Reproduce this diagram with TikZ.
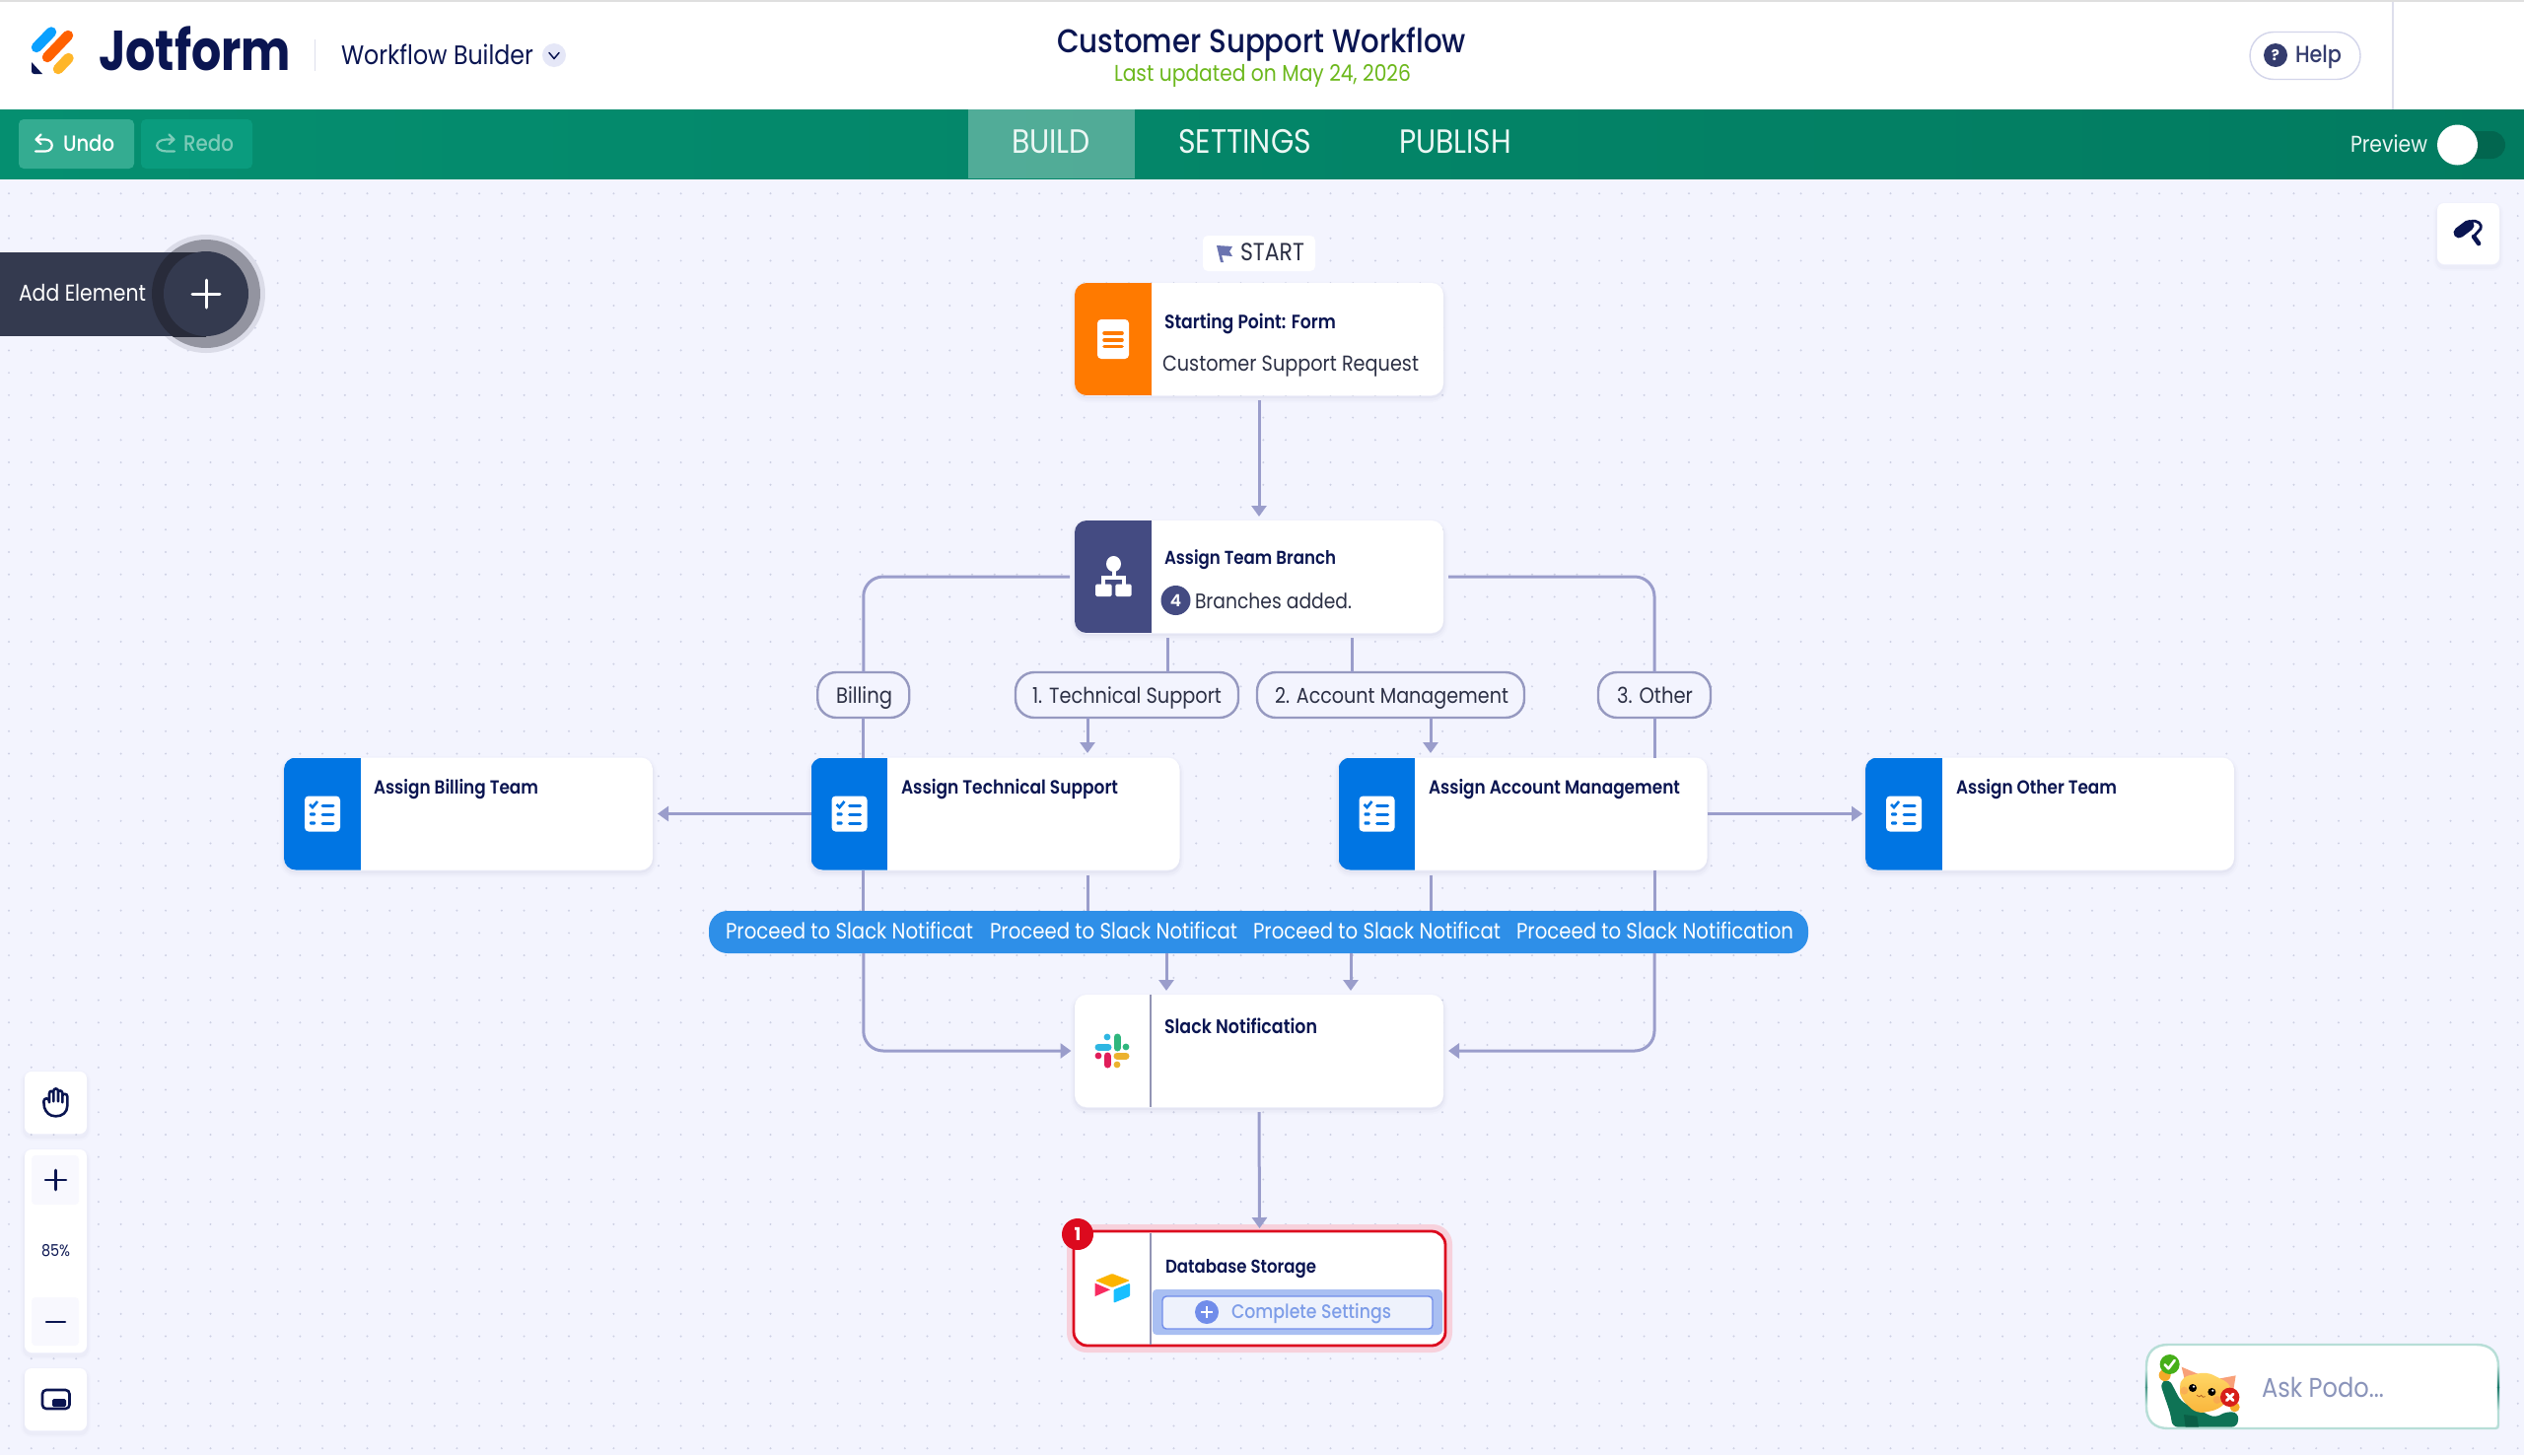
\documentclass[tikz,border=0pt]{standalone}
\usepackage{fontspec}
\usepackage{graphicx}
\usetikzlibrary{arrows.meta,calc}
\setmainfont{Poppins}
\newfontfamily\fmed{Poppins Medium}
\newfontfamily\fsemi{Poppins SemiBold}
\newfontfamily\fbold{Poppins}[UprightFont=* Bold]
\definecolor{navy}{HTML}{0A1551}
\definecolor{bgc}{HTML}{F3F4FE}
\definecolor{dotc}{HTML}{CDD0E4}
\definecolor{linec}{HTML}{9A9DCB}
\definecolor{ink}{HTML}{2C3045}
\definecolor{slate}{HTML}{343C6E}
\definecolor{brandblue}{HTML}{0075E3}
\definecolor{brandorange}{HTML}{FF7A00}
\definecolor{brandindigo}{HTML}{444B82}
\definecolor{darkbar}{HTML}{343A4F}
\definecolor{busc}{HTML}{2E8FE8}
\definecolor{redc}{HTML}{DC0A1E}
\definecolor{compl}{HTML}{7E9DE8}
\definecolor{barl}{HTML}{058F70}
\definecolor{barr}{HTML}{027B60}
\definecolor{bordl}{HTML}{B7DED7}
\definecolor{bordd}{HTML}{197869}
\definecolor{bordm}{HTML}{469687}
\definecolor{catl}{HTML}{FFD766}
\definecolor{catd}{HTML}{F9B53B}
\definecolor{tabtxt}{HTML}{EBF7F4}
\definecolor{redotxt}{HTML}{7CCBB8}
\definecolor{updc}{HTML}{6CB81C}
\definecolor{podoc}{HTML}{8A94BA}
\definecolor{helpb}{HTML}{D3D5EA}
\definecolor{divl}{HTML}{DEDFEC}
\def\vstretch{1.14}
\newcommand\txt[7]{\node[anchor=base west,inner sep=0pt,outer sep=0pt,text=#5] (#1) at (#2,#3) {\scalebox{1}[\vstretch]{\resizebox{#4pt}{!}{\fontsize{20pt}{24pt}#6\selectfont #7}}};}
\newcommand\checklist[1]{%
  \fill[white,rounded corners=4pt] ([xshift=21pt,yshift=-2pt]#1.west |- #1.center) ++(0pt,20pt) rectangle ++(36pt,-36pt);
  \begin{scope}[shift={(#1.west)},yshift=-0.5pt]
    \foreach \yy/\xx in {-9/0,0/0,9/0}{\draw[brandblue,line width=3pt,line cap=round] (39,\yy) -- (50,\yy);}
    \draw[brandblue,line width=2.6pt] (26,-10) -- (29,-7) -- (34,-13);
    \fill[brandblue,rounded corners=1pt] (26,-1.6) rectangle (32,1.6);
    \fill[brandblue,rounded corners=1pt] (26,7.4) rectangle (32,10.6);
  \end{scope}}
\newcommand\strip[3]{%
  \begin{scope}
    \clip[rounded corners=12pt] (#1.south west) rectangle (#1.north east);
    \fill[#2] (#1.south west) rectangle (#3,\cardtop);
  \end{scope}}
\tikzset{
  x=1pt,y=-1pt,
  cardbox/.style={rectangle,fill=white,rounded corners=12pt,inner sep=0pt,outer sep=0pt,
    minimum width=374pt,minimum height=114pt,
    preaction={draw=slate,line width=9pt,opacity=.012,transform canvas={yshift=-3pt}},
    preaction={draw=slate,line width=5pt,opacity=.022,transform canvas={yshift=-3pt}},
    preaction={draw=slate,line width=2pt,opacity=.035,transform canvas={yshift=-2pt}}},
  toolbox/.style={rectangle,fill=white,rounded corners=7pt,inner sep=0pt,outer sep=0pt,
    preaction={draw=slate,line width=8pt,opacity=.012,transform canvas={yshift=-3pt}},
    preaction={draw=slate,line width=4pt,opacity=.022,transform canvas={yshift=-3pt}}},
  pillbox/.style={rectangle,draw=linec!85!gray,fill=bgc,line width=2.4pt,rounded corners=19pt,inner sep=0pt,outer sep=0pt,minimum height=46pt},
  conn/.style={draw=linec,line width=3pt},
  tip/.style={-{Triangle[length=11pt,width=15pt]}},
}
\begin{document}
\begin{tikzpicture}
\useasboundingbox (0,0) rectangle (2560,1476);
% canvas
\fill[bgc] (0,0) rectangle (2560,1476);
\foreach \r in {0,...,56}{
  \pgfmathsetmacro\yy{196.3+22.73*\r}
  \fill[dotc] \foreach \c in {0,...,112}{ ({9+22.72*\c},\yy) circle (1.1pt) };
}
% header
\fill[white] (0,0) rectangle (2560,111);
\fill[gray!25] (0,0) rectangle (2560,1.5);
\draw[divl,line width=1.2pt] (2427,1.5) -- (2427,111);
% toolbar
\shade[left color=barl,right color=barr] (0,111) rectangle (2560,181);
\fill[white,opacity=.31] (981.5,111) rectangle (1150.5,181);
\node[fill={rgb,255:red,52;green,172;blue,145},rounded corners=5pt,inner sep=0pt,minimum width=117pt,minimum height=50pt] (undobtn) at (77.5,146) {};
\node[fill={rgb,255:red,10;green,156;blue,126},rounded corners=5pt,inner sep=0pt,minimum width=113pt,minimum height=50pt] (redobtn) at (199.5,146) {};
\draw[white,line width=2.2pt,line cap=round,line join=round] (36,153.5) -- (46,153.5) .. controls (55,153.5) and (55,141.5) .. (46,141.5) -- (37,141.5) (41.5,136.5) -- (36.5,141.5) -- (41.5,146);
\draw[draw=redotxt,line width=2.2pt,line cap=round,line join=round] (177,153.5) -- (169,153.5) .. controls (156,153.5) and (156,141.5) .. (169,141.5) -- (176,141.5) (171.5,136.5) -- (176.5,141.5) -- (171.5,146);
\txt{tundo}{64}{153}{52}{white}{\fmed}{Undo}
\txt{tredo}{186}{153}{51}{redotxt}{\fmed}{Redo}
\txt{tbuild}{1026}{155}{80}{tabtxt}{}{BUILD}
\txt{tsettings}{1195}{155}{135}{tabtxt}{}{SETTINGS}
\txt{tpublish}{1419}{155}{114}{tabtxt}{}{PUBLISH}
\txt{tpreview}{2384}{154}{78}{tabtxt}{}{Preview}
\fill[rounded corners=14pt,fill={rgb,255:red,2;green,102;blue,79}] (2480,133) rectangle (2541,161);
\node[circle,fill=white,inner sep=0pt,minimum size=41pt] (toggleknob) at (2492.5,147) {};
% logo
\draw[line width=10.5pt,line cap=round,color={rgb,255:red,10;green,160;blue,255}] (37,48) -- (52,32.5);
\draw[line width=10.5pt,line cap=round,color={rgb,255:red,255;green,97;blue,0}] (48,58) -- (69,36);
\draw[line width=10.5pt,line cap=round,color={rgb,255:red,255;green,182;blue,41}] (59,70) -- (69.5,59);
\fill[navy] (32,63) -- (43,75) -- (35,75) .. controls (33,75) and (32,74) .. (32,72) -- cycle;
{\def\vstretch{1.2}\txt{tjot}{100}{71}{195}{navy}{\fbold}{Jotform}}
\draw[divl,line width=1pt] (319,40) -- (319,72);
\txt{tworkflow}{346}{65}{195}{navy}{}{Workflow Builder}
\node[circle,fill={rgb,255:red,229;green,231;blue,247},inner sep=0pt,minimum size=24pt] (chev) at (562,56) {};
\draw[navy,line width=1.5pt,line cap=round,line join=round] (557,53.5) -- (562,59.5) -- (567,53.5);
\txt{ttitle}{1072}{53}{415}{navy}{\fmed}{Customer Support Workflow}
\txt{tupdated}{1130}{82}{301}{updc}{}{Last updated on May 24, 2026}
\node[draw=helpb,fill=white,line width=1.4pt,rounded corners=24pt,inner sep=0pt,minimum width=112pt,minimum height=48pt] (helpbtn) at (2338,56.5) {};
\node[circle,fill=slate,inner sep=0pt,minimum size=24pt,text=white] (helpq) at (2308,56) {\fontsize{15pt}{15pt}\fbold\selectfont ?};
\txt{thelp}{2328}{63}{47}{slate}{\fmed}{Help}
% add element
\fill[fill={rgb,255:red,219;green,220;blue,232}] (209,298) circle (60pt);
\fill[fill={rgb,255:red,147;green,148;blue,160}] (209,298) circle (55pt);
\fill[darkbar] (0,256) rectangle (209,341);
\begin{scope}
  \clip (0,256) rectangle (209,341);
  \fill[fill={rgb,255:red,40;green,43;blue,58}] (209,298) circle (55pt);
\end{scope}
\node[circle,fill=darkbar,inner sep=0pt,minimum size=86pt] (addbtn) at (209,298) {};
\draw[white,line width=3pt,line cap=round] (195,298) -- (223,298) (209,284) -- (209,312);
\txt{tadd}{19}{305}{129}{white}{}{Add Element}
% roller button
\node[toolbox,minimum width=63pt,minimum height=62pt] (rollerbtn) at (2503.5,237) {};
\draw[navy,line width=11pt,line cap=round] (2494,236) -- (2504,228.5);
\draw[navy,line width=2.8pt,line join=round] (2505,225) .. controls (2513,222) and (2518,228) .. (2516,232) -- (2509,240);
\draw[navy,line width=4.6pt,line cap=round] (2509,240) -- (2514,247);
% cards
\node[cardbox] (start) at (1277,344) {};
\node[cardbox] (branch) at (1277,585) {};
\node[cardbox] (bill) at (475,825.5) {};
\node[cardbox] (tech) at (1009.5,825.5) {};
\node[cardbox] (acct) at (1544.5,825.5) {};
\node[cardbox] (other) at (2079,825.5) {};
\node[cardbox] (slack) at (1277,1066) {};
\fill[fill={rgb,255:red,247;green,209;blue,220},rounded corners=20pt] (1082,1242) rectangle (1473,1372);
\node[rectangle,draw=redc,fill=white,line width=2.8pt,rounded corners=14pt,inner sep=0pt,outer sep=0pt,minimum width=377pt,minimum height=116pt] (db) at (1277.5,1307) {};
% strips
\def\cardtop{287}\strip{start}{brandorange}{1168}
\def\cardtop{528}\strip{branch}{brandindigo}{1168}
\def\cardtop{768.5}\strip{bill}{brandblue}{366}
\def\cardtop{768.5}\strip{tech}{brandblue}{900}
\def\cardtop{768.5}\strip{acct}{brandblue}{1435}
\def\cardtop{768.5}\strip{other}{brandblue}{1970}
\draw[linec!70!gray,line width=1.4pt] (1167,1009) -- (1167,1123);
\draw[linec!70!gray,line width=1.4pt] (1167,1250.5) -- (1167,1363.5);
% start icon
\fill[white,rounded corners=4pt] (1113,324) rectangle (1145,364);
\foreach \yy in {338,345,351.5}{\draw[brandorange,line width=3.6pt,line cap=round] (1120,\yy) -- (1138,\yy);}
% branch icon
\fill[white] (1129.5,572) ellipse (7.5pt and 8pt);
\fill[white] (1127.5,575) rectangle (1131.5,586);
\draw[white,line width=3.6pt] (1119,594) -- (1119,586) -- (1140,586) -- (1140,594);
\fill[white,rounded corners=1.5pt] (1111,592.5) rectangle (1127.6,605);
\fill[white,rounded corners=1.5pt] (1131.4,592.5) rectangle (1147.5,605);
% checklists
\checklist{bill}\checklist{tech}\checklist{acct}\checklist{other}
% slack icon
\foreach \cc/\ax/\ay/\bx/\by/\dx/\dy in
  {{rgb,255:red,46;green,182;blue,226}/1114/1062/1124/1062/1123/1052,
   {rgb,255:red,46;green,182;blue,125}/1133/1052/1133/1063/1142/1062,
   {rgb,255:red,236;green,178;blue,46}/1133/1071/1142/1071/1133/1080,
   {rgb,255:red,224;green,30;blue,90}/1123/1071/1123/1080/1114/1071}{
  \draw[color=\cc,line width=7pt,line cap=round] (\ax,\ay) -- (\bx,\by);
  \fill[color=\cc] (\dx,\dy) circle (3.4pt);
}
% airtable icon
\fill[fill={rgb,255:red,252;green,180;blue,0},rounded corners=1pt] (1128,1292) -- (1146,1299) -- (1128,1306) -- (1111,1299) -- cycle;
\fill[fill={rgb,255:red,24;green,191;blue,255},rounded corners=1pt] (1129.5,1308.3) -- (1146,1301.7) -- (1146,1315) -- (1129.5,1321.7) -- cycle;
\fill[fill={rgb,255:red,248;green,43;blue,96}] (1110.7,1301.7) -- (1126,1308.3) -- (1110.7,1315) -- cycle;
% pills
\node[pillbox,minimum width=93pt] (pbill) at (875.75,705) {};
\node[pillbox,minimum width=226pt] (ptech) at (1143,705) {};
\node[pillbox,minimum width=271pt] (pacct) at (1410.5,705) {};
\node[pillbox,minimum width=114pt] (pother) at (1678,705) {};
\node[rectangle,fill=busc,rounded corners=19pt,inner sep=0pt,outer sep=0pt,minimum width=1115pt,minimum height=43pt] (bus) at (1276.5,945.5) {};
% connectors
\draw[conn,tip] ([yshift=-5pt]start.south) -- ([yshift=4pt]branch.north);
\draw[conn,rounded corners=20pt] ([xshift=-5pt]branch.west) -| (pbill.north);
\draw[conn,rounded corners=20pt] ([xshift=5pt]branch.east) -| (pother.north);
\draw[conn] ([xshift=-93pt,yshift=-5pt]branch.south) -- ([xshift=-93pt]branch.south |- ptech.north);
\draw[conn] ([xshift=94pt,yshift=-5pt]branch.south) -- ([xshift=94pt]branch.south |- pacct.north);
\draw[conn] (pbill.south) -- (pbill.south |- tech.north);
\draw[conn] (pother.south) -- (pother.south |- acct.north);
\draw[conn,tip] ([xshift=93.5pt]tech.north |- ptech.south) -- ([xshift=93.5pt,yshift=4.5pt]tech.north);
\draw[conn,tip] ([xshift=-93.5pt]acct.north |- pacct.south) -- ([xshift=-93.5pt,yshift=4.5pt]acct.north);
\draw[conn,tip] (tech.west) -- ([xshift=5pt]bill.east);
\draw[conn,tip] (acct.east) -- ([xshift=-3pt]other.west);
\draw[conn] (pbill.south |- tech.south) -- (pbill.south |- bus.north);
\draw[conn] ([xshift=93.5pt,yshift=-5pt]tech.south) -- ([xshift=93.5pt]tech.south |- bus.north);
\draw[conn] ([xshift=-93.5pt,yshift=-5pt]acct.south) -- ([xshift=-93.5pt]acct.south |- bus.north);
\draw[conn] (pother.south |- acct.south) -- (pother.south |- bus.north);
\draw[conn,tip] ([xshift=-94pt]slack.north |- bus.south) -- ([xshift=-94pt,yshift=4pt]slack.north);
\draw[conn,tip] ([xshift=93pt]slack.north |- bus.south) -- ([xshift=93pt,yshift=4pt]slack.north);
\draw[conn,tip,rounded corners=20pt] (pbill.south |- bus.south) |- ([xshift=-3.5pt]slack.west);
\draw[conn,tip,rounded corners=20pt] (pother.south |- bus.south) |- ([xshift=5pt]slack.east);
\draw[conn,tip] ([yshift=-5pt]slack.south) -- ([yshift=3pt]db.north);
% start label
\node[rectangle,fill=white,rounded corners=5pt,inner sep=0pt,minimum width=114pt,minimum height=36pt] (startlbl) at (1277,257) {};
\fill[fill={rgb,255:red,107;green,116;blue,176}] (1234,249) -- (1250,250) -- (1247,255) -- (1250,260) -- (1239,259) -- (1241,266) -- (1238,266) -- cycle;
\txt{tstart}{1258}{264}{65}{ink}{}{START}
% card texts
\txt{t1}{1181}{333}{174}{navy}{\fsemi}{Starting Point: Form}
\txt{t2}{1179}{376}{260}{ink}{}{Customer Support Request}
\txt{t3}{1181}{572}{174}{navy}{\fsemi}{Assign Team Branch}
\node[circle,fill=brandindigo,inner sep=0pt,minimum size=30pt,text=white] (fourc) at (1192.5,609) {\fontsize{17pt}{17pt}\fsemi\selectfont 4};
\txt{t4}{1212}{617}{159}{ink}{}{Branches added.}
\txt{t5}{379}{805.5}{167}{navy}{\fsemi}{Assign Billing Team}
\txt{t6}{914}{805.5}{220}{navy}{\fsemi}{Assign Technical Support}
\txt{t7}{1449}{805.5}{255}{navy}{\fsemi}{Assign Account Management}
\txt{t8}{1984}{805.5}{163}{navy}{\fsemi}{Assign Other Team}
\txt{t9}{1181}{1048}{155}{navy}{\fsemi}{Slack Notification}
\txt{t10}{1182}{1291}{153}{navy}{\fsemi}{Database Storage}
% complete settings
\fill[fill={rgb,255:red,169;green,191;blue,242},rounded corners=4pt] (1169,1308) rectangle (1463,1354);
\node[rectangle,draw=compl!90!blue,fill={rgb,255:red,238;green,242;blue,252},line width=1.4pt,rounded corners=4pt,inner sep=0pt,minimum width=274pt,minimum height=33pt] (complbtn) at (1316,1331.5) {};
\node[circle,fill=compl!90!blue,inner sep=0pt,minimum size=24pt] (complplus) at (1224,1331) {};
\draw[white,line width=2.2pt] (1218,1331) -- (1230,1331) (1224,1325) -- (1224,1337);
\txt{t11}{1249}{1337}{162}{compl}{\fmed}{Complete Settings}
\node[circle,fill=redc,inner sep=0pt,minimum size=32pt,text=white] (badge) at (1093,1252) {\fontsize{18pt}{18pt}\fbold\selectfont 1};
% pill texts
\txt{p1}{848}{713}{57}{ink}{}{Billing}
\txt{p2}{1047}{713}{192}{ink}{}{1. Technical Support}
\txt{p3}{1293}{713}{237}{ink}{}{2. Account Management}
\txt{p4}{1640}{713}{77}{ink}{}{3. Other}
% bus texts
\txt{b1}{736}{952}{251}{white}{}{Proceed to Slack Notificat}
\txt{b2}{1004}{952}{251}{white}{}{Proceed to Slack Notificat}
\txt{b3}{1271}{952}{251}{white}{}{Proceed to Slack Notificat}
\txt{b4}{1538}{952}{281}{white}{}{Proceed to Slack Notification}
% tools
\node[toolbox,minimum width=63pt,minimum height=63pt] (handbtn) at (56.5,1118.5) {};
\node[toolbox,minimum width=63pt,minimum height=206pt] (zoombtn) at (56.5,1269) {};
\node[toolbox,minimum width=63pt,minimum height=63pt] (mapbtn) at (56.5,1419.5) {};
\fill[fill={rgb,255:red,248;green,248;blue,254},rounded corners=4pt] (32,1172) rectangle (80,1222);
\fill[fill={rgb,255:red,248;green,248;blue,254},rounded corners=4pt] (32,1316) rectangle (80,1365);
\draw[navy,line width=2.6pt,line cap=round] (46,1197) -- (67,1197) (56.5,1187) -- (56.5,1207);
\draw[navy,line width=2.6pt,line cap=round] (47,1341) -- (66,1341);
\txt{tzoom}{42}{1274}{29}{navy}{}{85\%}
\begin{scope}[shift={(0,1060)},x=0.3333pt,y=-0.3333pt]
\draw[navy,line width=2.6pt,line cap=round,line join=round]
  (150,175) -- (150,148) .. controls (150,138) and (163,138) .. (163,148) -- (163,172)
  (163,148) -- (163,140) .. controls (163,131) and (177,131) .. (177,140) -- (177,172)
  (177,145) .. controls (177,137) and (190,137) .. (190,147) -- (190,175)
  (190,155) .. controls (190,147) and (205,147) .. (205,157) -- (205,185) .. controls (205,205) and (190,217) .. (170,217) .. controls (150,217) and (140,205) .. (135,190) -- (133,172) .. controls (133,160) and (150,160) .. (150,172);
\end{scope}
\draw[navy,line width=2.6pt,rounded corners=4pt] (43,1410) rectangle (70.5,1429);
\fill[navy,rounded corners=1.5pt] (53,1419) rectangle (67,1427);
% podo
\fill[white] (2199,1364) -- (2512,1364) .. controls (2526,1364) and (2534,1372) .. (2534,1386) -- (2534,1445) .. controls (2534,1448) and (2533,1449) .. (2531,1449) -- (2199,1449) .. controls (2185,1449) and (2177,1441) .. (2177,1427) -- (2177,1386) .. controls (2177,1372) and (2185,1364) .. (2199,1364) -- cycle;
\begin{scope}[shift={(2150,1340)},x=0.3333pt,y=-0.3333pt]
  \fill[fill={rgb,255:red,15;green,115;blue,85},rounded corners=6pt] (122,188) -- (150,176) -- (186,245) -- (290,295) -- (325,275) -- (362,280) -- (358,323) -- (160,323) -- (155,285) -- cycle;
  \fill[fill={rgb,255:red,10;green,95;blue,70}] (195,285) -- (235,290) -- (240,323) -- (200,323) -- cycle;
  \fill[fill={rgb,255:red,245;green,170;blue,40}] (137,165) circle (6pt);
  \fill[fill={rgb,255:red,245;green,170;blue,40}] (350,262) circle (5pt);
  \fill[fill={rgb,255:red,248;green,160;blue,120}] (188,140) -- (240,162) -- (200,190) -- cycle;
  \fill[fill={rgb,255:red,248;green,160;blue,120}] (305,175) -- (353,166) -- (345,215) -- cycle;
  \shade[top color=catl,bottom color=catd,rounded corners=7pt] (190,170) -- (265,155) -- (335,190) -- (345,225) -- (300,270) -- (235,282) -- (188,240) -- (180,205) -- cycle;
  \fill[fill={rgb,255:red,245;green,140;blue,90},opacity=.4] (196,212) circle (4pt) (296,240) circle (4pt);
  \fill[black] (222,204) circle (4pt);
  \fill[black] (280,216) circle (4pt);
  \fill[white] (225,200) circle (1.2pt) (283,212) circle (1.2pt);
  \draw[draw={rgb,255:red,170;green,90;blue,30},line width=.7pt] (234,226) .. controls (240,232) and (245,232) .. (248,226) .. controls (250,232) and (255,234) .. (260,230);
  \fill[fill={rgb,255:red,70;green,175;blue,25}] (152,132) circle (10pt);
  \draw[white,line width=2.6pt,line cap=round,line join=round] (137,133) -- (148,145) -- (167,120);
  \fill[fill={rgb,255:red,215;green,30;blue,25}] (335,232) circle (9.7pt);
  \draw[white,line width=2.8pt,line cap=round] (325,222) -- (345,242) (345,222) -- (325,242);
\end{scope}
\draw[line width=2.4pt,draw=bordl] (2199,1364) -- (2512,1364) .. controls (2526,1364) and (2534,1372) .. (2534,1386) -- (2534,1445) .. controls (2534,1448) and (2533,1449) .. (2531,1449) -- (2199,1449) .. controls (2185,1449) and (2177,1441) .. (2177,1427) -- (2177,1386) .. controls (2177,1372) and (2185,1364) .. (2199,1364) -- cycle;
\shade[top color=bordl,bottom color=bordd] (2532.8,1385) rectangle (2535.2,1407);
\shade[bottom color=bordl,top color=bordd] (2532.8,1407) rectangle (2535.2,1430);
\shade[top color=bordl,bottom color=bordm] (2175.8,1390) rectangle (2178.2,1407);
\shade[bottom color=bordl,top color=bordm] (2175.8,1407) rectangle (2178.2,1425);
\txt{tpodo}{2294}{1417}{124}{podoc}{}{Ask Podo...}
\end{tikzpicture}
\end{document}
